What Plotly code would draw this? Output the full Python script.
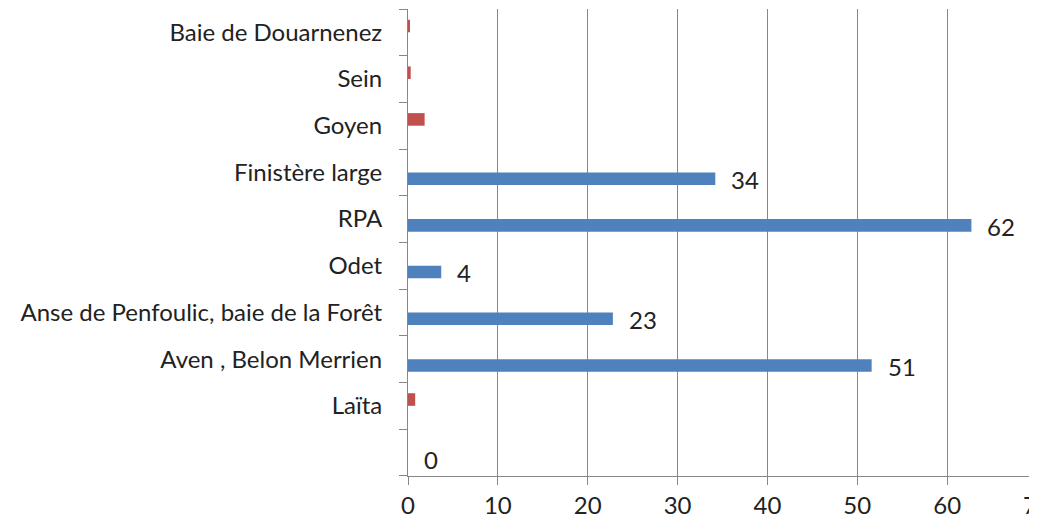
import plotly.graph_objects as go

# categories, bottom to top
sites = [" ", "Laïta", "Aven , Belon Merrien", "Anse de Penfoulic, baie de la Forêt",
         "Odet", "RPA", "Finistère large", "Goyen", "Sein", "Baie de Douarnenez"]
serie_bleue = [0, None, 51.6, 22.8, 3.7, 62.7, 34.2, None, None, None]
etiquettes_bleues = ["0", "", "51", "23", "4", "62", "34", "", "", ""]
serie_rouge = [None, 0.8, None, None, None, None, None, 1.85, 0.3, 0.2]
x_ticks = [0, 10, 20, 30, 40, 50, 60, 70]

FONT = "Lato"
GRIS = "#878787"
TXT = "#222222"

fig = go.Figure()
fig.add_trace(go.Bar(y=sites, x=serie_bleue, orientation="h",
                     marker=dict(color="#4F81BD", line=dict(width=0))))
fig.add_trace(go.Bar(y=sites, x=serie_rouge, orientation="h",
                     marker=dict(color="#C0504D", line=dict(width=0))))

# data labels on the blue series, outside end
for s, v, t in zip(sites, serie_bleue, etiquettes_bleues):
    if v is None or t == "":
        continue
    fig.add_annotation(x=v, y=s, text=t, showarrow=False, xanchor="left",
                       xshift=14, yshift=-7, font=dict(family=FONT, size=24, color=TXT))

# page body has an 8px margin; keep height small enough to avoid a scrollbar
fig.update_layout(
    width=1029, height=507,
    margin=dict(l=400, r=0, t=1, b=39),
    paper_bgcolor="white", plot_bgcolor="white",
    barmode="group", bargap=0.46, bargroupgap=0,
    showlegend=False,
    font=dict(family=FONT, size=24, color=TXT),
)
# the last tick label (70) is cut by the right edge, as in the original
fig.update_xaxes(range=[0, 70], tickvals=x_ticks, showgrid=True, gridcolor=GRIS, gridwidth=1,
                 showline=True, linecolor=GRIS, linewidth=1, zeroline=False,
                 ticks="outside", ticklen=8, tickcolor=GRIS, automargin=False,
                 ticklabelstandoff=0, ticklabeloverflow="allow")
fig.update_yaxes(type="category", categoryorder="array", categoryarray=sites,
                 tickson="boundaries", ticks="outside", ticklen=8, tickcolor=GRIS,
                 showline=True, linecolor=GRIS, linewidth=1, showgrid=False,
                 automargin=False, ticklabelstandoff=20)

fig.write_html("out.html")
